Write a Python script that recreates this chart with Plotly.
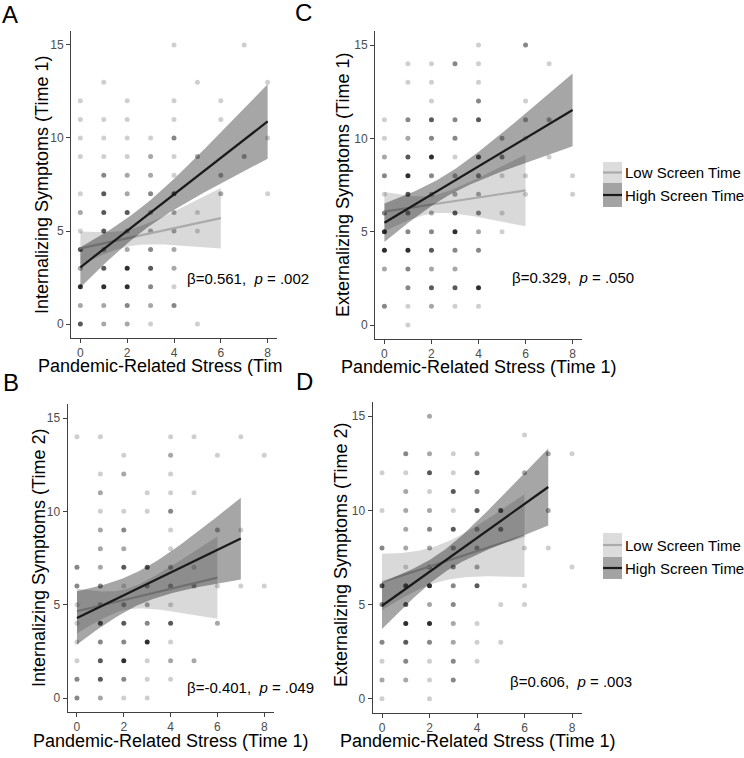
import numpy as np
import plotly.graph_objects as go

W, H = 744, 758
FONT = "Liberation Sans, Arial, Helvetica, sans-serif"

# ---------------- data ----------------
x_ticks = [0, 2, 4, 6, 8]
y_ticks = [0, 5, 10, 15]
x_title = "Pandemic-Related Stress (Time 1)"
groups = ["Low Screen Time", "High Screen Time"]

# points: (stress, symptoms, number of overlapping observations)
A_pts = [(4,15,1),(7,15,1),
         (1,13,1),(5,13,1),(8,13,1),
         (0,12,1),(2,12,1),(4,12,1),(6,12,1),
         (0,11,1),(1,11,1),(2,11,1),(4,11,1),(6,11,1),
         (0,10,1),(1,10,1),(2,10,1),(3,10,1),(4,10,3),(8,10,1),
         (0,9,1),(1,9,1),(2,9,1),(3,9,2),(4,9,1),(5,9,2),(7,9,2),
         (1,8,3),(2,8,2),(3,8,2),(4,8,1),(6,8,2),
         (0,7,1),(1,7,5),(2,7,2),(3,7,3),(4,7,5),(6,7,2),(8,7,1),
         (0,6,2),(1,6,5),(2,6,5),(3,6,2),(4,6,2),(5,6,1),
         (0,5,1),(1,5,5),(2,5,2),(3,5,2),(4,5,2),(5,5,1),
         (0,4,5),(1,4,2),(2,4,2),(3,4,3),(4,4,2),
         (0,3,2),(1,3,5),(2,3,8),(3,3,5),(4,3,2),
         (0,2,8),(1,2,8),(2,2,8),(3,2,3),(4,2,1),
         (0,1,2),(1,1,2),(2,1,3),(3,1,2),(4,1,3),
         (0,0,5),(1,0,2),(2,0,2),(3,0,1),(5,0,1)]

B_pts = [(0,14,1),(1,14,1),(4,14,1),(5,14,1),(7,14,1),
         (2,13,1),(4,13,2),(6,13,1),(8,13,1),
         (1,12,1),(2,12,2),(4,12,1),
         (1,11,2),(3,11,1),(4,11,1),(5,11,1),
         (1,10,1),(2,10,1),(3,10,1),(4,10,3),
         (1,9,2),(2,9,3),(4,9,1),(6,9,2),(7,9,1),
         (1,8,2),(2,8,2),(4,8,1),
         (0,7,3),(1,7,2),(2,7,5),(3,7,5),(4,7,2),(5,7,1),
         (0,6,3),(1,6,3),(2,6,1),(3,6,2),(4,6,2),(5,6,2),(6,6,1),(7,6,1),(8,6,1),
         (0,5,1),(1,5,2),(2,5,2),(3,5,2),(4,5,1),
         (0,4,1),(1,4,5),(2,4,5),(3,4,3),(4,4,5),(6,4,2),
         (0,3,1),(1,3,3),(2,3,3),(3,3,8),(4,3,1),
         (0,2,1),(1,2,5),(2,2,8),(3,2,1),(4,2,2),(5,2,2),
         (0,1,3),(1,1,5),(2,1,3),(3,1,1),(4,1,1),
         (0,0,3),(1,0,2),(2,0,1),(3,0,1)]

C_pts = [(4,15,1),(6,15,3),
         (1,14,1),(2,14,1),(3,14,3),(4,14,1),(7,14,1),
         (1,13,1),(2,13,1),(4,13,1),
         (2,12,1),(4,12,3),(6,12,1),
         (0,11,1),(1,11,3),(2,11,5),(3,11,3),(4,11,5),(6,11,2),(7,11,2),
         (0,10,1),(1,10,2),(2,10,3),(3,10,3),(5,10,2),(6,10,1),
         (0,9,2),(1,9,5),(2,9,8),(3,9,1),(4,9,5),(5,9,3),(7,9,1),
         (0,8,3),(1,8,8),(2,8,3),(3,8,2),(4,8,3),(5,8,1),(6,8,1),(8,8,1),
         (0,7,1),(1,7,5),(2,7,2),(3,7,2),(4,7,2),(6,7,1),(8,7,1),
         (0,6,3),(1,6,3),(2,6,2),(3,6,5),(4,6,3),(5,6,1),
         (0,5,8),(1,5,3),(2,5,3),(3,5,8),(4,5,2),(5,5,1),
         (0,4,8),(1,4,8),(2,4,5),(3,4,3),(4,4,3),
         (0,3,2),(1,3,3),(2,3,2),(3,3,2),
         (1,2,3),(2,2,5),(3,2,5),(4,2,8),
         (0,1,3),(1,1,1),(2,1,2),(3,1,1),(4,1,1),
         (1,0,1)]

D_pts = [(2,15,2),
         (6,14,1),
         (1,13,3),(2,13,2),(3,13,1),(4,13,2),(7,13,2),(8,13,1),
         (0,12,1),(1,12,1),(2,12,5),(3,12,1),(4,12,5),(6,12,2),
         (1,11,2),(2,11,1),(3,11,5),(4,11,3),
         (0,10,1),(1,10,2),(2,10,2),(3,10,1),(4,10,5),(5,10,5),(7,10,2),
         (1,9,2),(2,9,3),(3,9,5),(4,9,2),(5,9,3),
         (0,8,3),(1,8,2),(2,8,2),(3,8,2),(4,8,2),(6,8,1),(7,8,1),
         (1,7,1),(2,7,2),(3,7,3),(4,7,2),(8,7,1),
         (0,6,5),(1,6,5),(2,6,8),(3,6,3),(4,6,5),(6,6,1),
         (0,5,3),(1,5,5),(2,5,2),(3,5,3),(5,5,1),(6,5,1),
         (1,4,8),(2,4,8),(3,4,2),(4,4,1),
         (0,3,3),(1,3,5),(2,3,3),(3,3,2),(4,3,1),(5,3,1),
         (0,2,1),(1,2,3),(2,2,1),(3,2,3),(4,2,1),
         (0,1,2),(1,1,2),(2,1,1),(3,1,3),
         (0,0,1),(2,0,1)]

# regression fits: [x_min, x_max, intercept, slope, x_center, min_se2, slope_se2]
A_low  = [0, 6, 4.07, 0.27, 2.0, 0.20, 0.153]
A_high = [0, 8, 3.05, 0.98, 2.5, 0.43, 0.118]
B_low  = [0, 6, 4.65, 0.30, 2.0, 0.30, 0.284]
B_high = [0, 7, 4.29, 0.607, 2.5, 0.81, 0.197]
C_low  = [0, 6, 6.07, 0.19, 2.0, 0.236, 0.216]
C_high = [0, 8, 5.48, 0.755, 2.5, 0.346, 0.114]
D_low  = [0, 6, 6.20, 0.41, 2.2, 0.94, 0.27]
D_high = [0, 7, 4.94, 0.90, 2.5, 0.35, 0.19]

y_titles = {"A": "Internalizing Symptoms (Time 1)",
            "B": "Internalizing Symptoms (Time 2)",
            "C": "Externalizing Symptoms (Time 1)",
            "D": "Externalizing Symptoms (Time 2)"}
stats = {"A": ("0.561", ".002"), "B": ("-0.401", ".049"),
         "C": ("0.329", ".050"), "D": ("0.606", ".003")}
stat_pos = {"A": (4.45, 2.47), "B": (4.62, 0.54), "C": (5.35, 2.57), "D": (5.31, 0.9)}

# ---------------- layout geometry (pixels) ----------------
geom = {
    "A": dict(ax=1, x=(71, 277), y=(31, 338)),
    "C": dict(ax=2, x=(375, 582), y=(31, 339)),
    "B": dict(ax=3, x=(67.6, 273.6), y=(404, 712)),
    "D": dict(ax=4, x=(372.5, 581.5), y=(402, 713)),
}
pts = {"A": A_pts, "B": B_pts, "C": C_pts, "D": D_pts}
fits = {"A": (A_low, A_high), "B": (B_low, B_high), "C": (C_low, C_high), "D": (D_low, D_high)}

def fx(p): return p / W
def fy(p): return 1 - p / H

LOW_FILL = "rgba(0,0,0,0.15)"
HIGH_FILL = "rgba(0,0,0,0.35)"
LOW_LINE = "#ababab"
HIGH_LINE = "#1a1a1a"
AX_COL = "#404040"

fig = go.Figure()

for key in ["A", "C", "B", "D"]:
    g = geom[key]
    i = g["ax"]
    xa = "x" if i == 1 else f"x{i}"
    ya = "y" if i == 1 else f"y{i}"
    px, py, pn = zip(*pts[key])
    alpha = [1 - (1 - 0.19) ** n for n in pn]
    cols = [f"rgba(0,0,0,{a:.3f})" for a in alpha]
    fig.add_trace(go.Scatter(x=px, y=py, mode="markers", xaxis=xa, yaxis=ya,
                             marker=dict(size=5, color=cols, line=dict(width=0)),
                             showlegend=False, hoverinfo="skip"))
    for fit, fill, lcol in zip(fits[key], [LOW_FILL, HIGH_FILL], [LOW_LINE, HIGH_LINE]):
        x0, x1, b0, b1, m, s0, s1 = fit
        xs = np.linspace(x0, x1, 80)
        yh = b0 + b1 * xs
        hw = np.sqrt(s0 + s1 * (xs - m) ** 2)
        up, lo = yh + hw, yh - hw
        fig.add_trace(go.Scatter(x=np.concatenate([xs, xs[::-1]]),
                                 y=np.concatenate([up, lo[::-1]]),
                                 mode="lines", fill="toself", fillcolor=fill,
                                 line=dict(width=0), xaxis=xa, yaxis=ya,
                                 showlegend=False, hoverinfo="skip"))
        fig.add_trace(go.Scatter(x=xs, y=yh, mode="lines",
                                 line=dict(color=lcol, width=2.2),
                                 xaxis=xa, yaxis=ya, showlegend=False, hoverinfo="skip"))

layout = dict(width=W, height=H, margin=dict(l=0, r=0, t=0, b=0),
              paper_bgcolor="white", plot_bgcolor="white", showlegend=False)

axis_common = dict(showgrid=False, zeroline=False, showline=True, linecolor=AX_COL,
                   linewidth=1, ticks="outside", ticklen=4, tickcolor=AX_COL,
                   tickfont=dict(family=FONT, size=12, color="#4d4d4d"))
for key, g in geom.items():
    i = g["ax"]
    xn = "xaxis" if i == 1 else f"xaxis{i}"
    yn = "yaxis" if i == 1 else f"yaxis{i}"
    layout[xn] = dict(axis_common, domain=[fx(g["x"][0]), fx(g["x"][1])],
                      range=[-0.4, 8.4], tickvals=x_ticks,
                      anchor="y" if i == 1 else f"y{i}")
    layout[yn] = dict(axis_common, domain=[fy(g["y"][1]), fy(g["y"][0])],
                      range=[-0.75, 15.75], tickvals=y_ticks,
                      anchor="x" if i == 1 else f"x{i}")

ann = []
# panel letters
for lab, (cx, cy) in {"A": (9.5, 14), "C": (303.5, 13), "B": (10.5, 382), "D": (304, 381)}.items():
    ann.append(dict(text=lab, x=fx(cx), y=fy(cy), xref="paper", yref="paper",
                    xanchor="center", yanchor="middle", showarrow=False,
                    font=dict(family=FONT, size=24, color="black")))
# x titles
xt_pos = {"A": (36, 366, "left", "Pandemic-Related Stress (Tim"),
          "C": (478.5, 367, "center", x_title),
          "B": (170.6, 741, "center", x_title),
          "D": (477, 740.5, "center", x_title)}
for k, (cx, cy, anc, t) in xt_pos.items():
    ann.append(dict(text=t, x=fx(cx), y=fy(cy), xref="paper", yref="paper",
                    xanchor=anc, yanchor="middle", showarrow=False,
                    font=dict(family=FONT, size=18, color="black")))
# y titles
yt_pos = {"A": (42, 185), "C": (343, 185), "B": (39, 558), "D": (341, 555)}
for k, (cx, cy) in yt_pos.items():
    ann.append(dict(text=y_titles[k], x=fx(cx), y=fy(cy), xref="paper", yref="paper",
                    xanchor="center", yanchor="middle", textangle=-90, showarrow=False,
                    font=dict(family=FONT, size=18, color="black")))
# stats text
for k, (sx, sy) in stat_pos.items():
    i = geom[k]["ax"]
    b, p = stats[k]
    ann.append(dict(text=f"\u03b2={b},\u00a0\u00a0<i>p</i> = {p}", x=sx, y=sy,
                    xref="x" if i == 1 else f"x{i}", yref="y" if i == 1 else f"y{i}",
                    xanchor="left", yanchor="middle", showarrow=False,
                    font=dict(family=FONT, size=15, color="black")))

# manual legends (panels C and D)
shapes = []
legend_geo = [  # key left, key right, low top, mid, high bottom
    (603, 622, 162, 183, 207),
    (603, 622, 533, 557, 579),
]
for (l, r, t, mid, b) in legend_geo:
    shapes.append(dict(type="rect", xref="paper", yref="paper", x0=fx(l), x1=fx(r),
                       y0=fy(mid), y1=fy(t), fillcolor="#dcdcdc", line=dict(width=0), layer="above"))
    shapes.append(dict(type="rect", xref="paper", yref="paper", x0=fx(l), x1=fx(r),
                       y0=fy(b), y1=fy(mid), fillcolor="#a3a3a3", line=dict(width=0), layer="above"))
    ly = (t + mid) / 2
    hy = (mid + b) / 2
    shapes.append(dict(type="line", xref="paper", yref="paper", x0=fx(l), x1=fx(r),
                       y0=fy(ly), y1=fy(ly), line=dict(color=LOW_LINE, width=2.2), layer="above"))
    shapes.append(dict(type="line", xref="paper", yref="paper", x0=fx(l), x1=fx(r),
                       y0=fy(hy), y1=fy(hy), line=dict(color=HIGH_LINE, width=2.2), layer="above"))
    for txt, yy in zip(groups, [ly, hy]):
        ann.append(dict(text=txt, x=fx(r + 1), y=fy(yy), xref="paper", yref="paper",
                        xanchor="left", yanchor="middle", showarrow=False,
                        font=dict(family=FONT, size=15, color="black")))

layout["annotations"] = ann
layout["shapes"] = shapes
fig.update_layout(**layout)
fig.write_html("out.html", config={"displayModeBar": False},
               post_script="document.body.style.margin='0';document.body.style.overflow='hidden';")
